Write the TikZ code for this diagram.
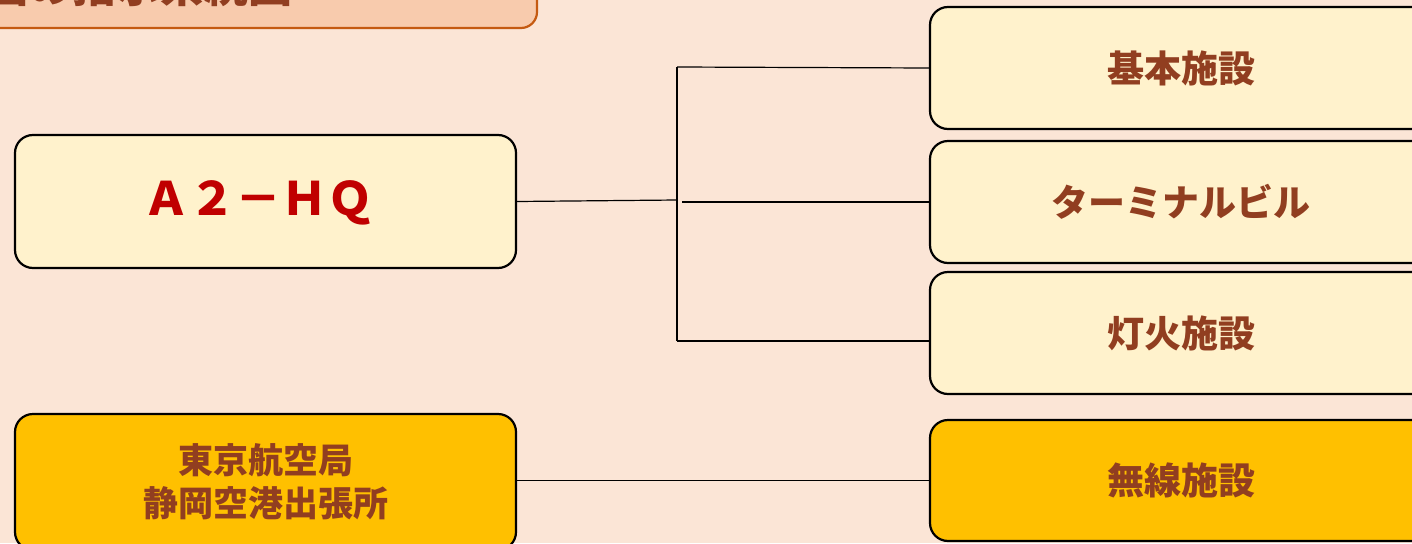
\documentclass[tikz,border=0pt]{standalone}
\usepackage{fontspec}
\setmainfont{Noto Sans CJK JP}
\definecolor{bg}{HTML}{FBE5D6}
\definecolor{lightbox}{HTML}{FFF2CC}
\definecolor{goldbox}{HTML}{FFC000}
\definecolor{titlefill}{HTML}{F8CBAD}
\definecolor{titleline}{HTML}{C55A11}
\definecolor{brown}{RGB}{145,62,32}
\definecolor{hqred}{HTML}{C00000}
\tikzset{
  box/.style={draw=black, line width=2.2pt, rounded corners=18pt, inner sep=0pt, align=center, font=\bfseries},
  conn/.style={draw=black, line width=1.2pt},
}
\begin{document}
\begin{tikzpicture}[x=1pt,y=-1pt]
\useasboundingbox (0,0) rectangle (1412,543);
\clip (0,0) rectangle (1412,543);
\fill[bg] (0,0) rectangle (1412,543);
% title box (cut off)
\draw[fill=titlefill, draw=titleline, line width=2.2pt, rounded corners=16pt] (-30,-80) rectangle (537,28);
\node[anchor=east, text=brown, font=\bfseries\fontsize{44}{50}\selectfont, inner sep=0pt] (title) at (293,-14) {図の指示系統図};
% left boxes
\node[box, fill=lightbox, minimum width=501pt, minimum height=133pt] (hq) at (265.5,201.5) {};
\node[text=hqred, font=\bfseries\fontsize{46}{50}\selectfont, inner sep=0pt] (hqt) at (258,203) {Ａ２－ＨＱ};
\node[box, fill=goldbox, minimum width=501pt, minimum height=136pt, text=brown, font=\bfseries\fontsize{35}{43}\selectfont] (gl) at (265.5,482) {東京航空局\\静岡空港出張所};
% right boxes
\node[box, fill=lightbox, minimum width=502pt, minimum height=122pt, text=brown, font=\bfseries\fontsize{37}{44}\selectfont] (b1) at (1181,68) {基本施設};
\node[box, fill=lightbox, minimum width=502pt, minimum height=122pt, text=brown, font=\bfseries\fontsize{37}{44}\selectfont] (b2) at (1181,202) {ターミナルビル};
\node[box, fill=lightbox, minimum width=502pt, minimum height=122pt, text=brown, font=\bfseries\fontsize{37}{44}\selectfont] (b3) at (1181,333) {灯火施設};
\node[box, fill=goldbox, minimum width=502pt, minimum height=121pt, text=brown, font=\bfseries\fontsize{37}{44}\selectfont] (b4) at (1181,480.5) {無線施設};
% connectors
\coordinate (j) at (677,200);
\coordinate (jt) at (677,67);
\coordinate (jb) at (677,341);
\coordinate (jm) at (682,202);
\draw[conn] (hq.east) -- (j);
\draw[conn] (jt) -- (jb);
\draw[conn] (jt) -- (b1.west);
\draw[conn] (jm) -- (b2.west);
\draw[conn] (jb) -- (jb -| b3.west);
\draw[conn] (b4.west -| gl.east) -- (b4.west);
\end{tikzpicture}
\end{document}
